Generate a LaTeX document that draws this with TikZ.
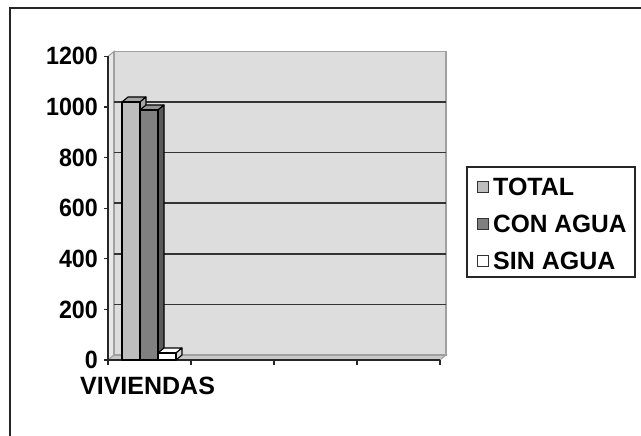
\documentclass[tikz,border=0pt]{standalone}
\usepackage{fontspec}
\usepackage{graphicx}
\setmainfont{Liberation Sans}
\definecolor{wallgray}{RGB}{221,221,221}
\definecolor{sidegray}{RGB}{232,232,232}
\definecolor{floorgray}{RGB}{200,200,200}
\definecolor{edgegray}{RGB}{160,160,160}
\definecolor{totalgray}{RGB}{190,190,190}
\definecolor{totaltop}{RGB}{165,165,165}
\definecolor{congray}{RGB}{128,128,128}
\definecolor{conside}{RGB}{90,90,90}
\definecolor{sinside}{RGB}{215,215,215}
\begin{document}
\begin{tikzpicture}[x=1pt,y=-1pt,
  lbl/.style={font=\fontsize{25}{28}\selectfont\bfseries, inner sep=0pt},
  axisline/.style={draw=black!85, line width=1.6pt},
  gridline/.style={draw=black!80, line width=1.5pt},
  barline/.style={draw=black, line width=1.1pt, line join=round},
  swatch/.style={draw=black!80, line width=1pt, minimum width=11pt, minimum height=11pt, inner sep=0pt}]
\useasboundingbox (0,0) rectangle (641,436);
\fill[white] (0,0) rectangle (641,436);
% outer frame
\draw[black!85, line width=1.6pt] (10,436) -- (10,8) -- (641,8);
% walls
\filldraw[fill=sidegray, draw=edgegray, line width=1pt] (108,360) -- (108,56.4) -- (114,51.4) -- (114,355) -- cycle;
\filldraw[fill=floorgray, draw=edgegray, line width=1pt] (108,360) -- (440,360) -- (446,355) -- (114,355) -- cycle;
\filldraw[fill=wallgray, draw=edgegray, line width=1.2pt] (114,51.4) rectangle (446,355);
% gridlines
\foreach \yy in {304.4,253.8,203.2,152.6,102} {
  \draw[gridline] (114,\yy) -- (446,\yy);
}
% axes
\draw[axisline] (108,56.4) -- (108,360) -- (440,360);
\foreach \v in {0,200,400,600,800,1000,1200} {
  \coordinate (t\v) at (108,{360-0.253*\v});
  \draw[axisline, line width=1.3pt] (t\v) -- ++(-4,0);
  \node[lbl, anchor=east] (l\v) at (98,{360-0.253*\v}) {\scalebox{0.93}[1]{\v}};
}
\foreach \xx in {108,191,274,357,440} {
  \draw[axisline, line width=1.3pt] (\xx,360) -- (\xx,365);
}
% TOTAL bar
\filldraw[fill=totaltop, barline] (122,102) -- (128,97) -- (146,97) -- (140,102) -- cycle;
\filldraw[fill=totaltop, barline] (140,102) -- (146,97) -- (146,355) -- (140,360) -- cycle;
\filldraw[fill=totalgray, barline] (122,102) rectangle (140,360);
% CON AGUA bar
\filldraw[fill=congray!85, barline] (140,110) -- (146,105) -- (164,105) -- (158,110) -- cycle;
\filldraw[fill=conside, barline] (158,110) -- (164,105) -- (164,355) -- (158,360) -- cycle;
\filldraw[fill=congray, barline] (140,110) rectangle (158,360);
% SIN AGUA bar
\filldraw[fill=white, barline] (158,353) -- (164,348) -- (182,348) -- (176,353) -- cycle;
\filldraw[fill=sinside, barline] (176,353) -- (182,348) -- (182,355) -- (176,360) -- cycle;
\filldraw[fill=white, barline] (158,353) rectangle (176,360);
% category label
\node[lbl, anchor=west] (cat) at (80,386) {VIVIENDAS};
% legend
\draw[black!85, line width=1.2pt, fill=white] (467,167) rectangle (635,277);
\node[swatch, fill=totalgray] (s1) at (483,187) {};
\node[swatch, fill=congray] (s2) at (483,224) {};
\node[swatch, fill=white] (s3) at (483,261) {};
\node[lbl, anchor=west] (e1) at (493,187) {TOTAL};
\node[lbl, anchor=west] (e2) at (493,224) {\scalebox{0.98}[1]{CON AGUA}};
\node[lbl, anchor=west] (e3) at (493,261) {SIN AGUA};
\end{tikzpicture}
\end{document}
